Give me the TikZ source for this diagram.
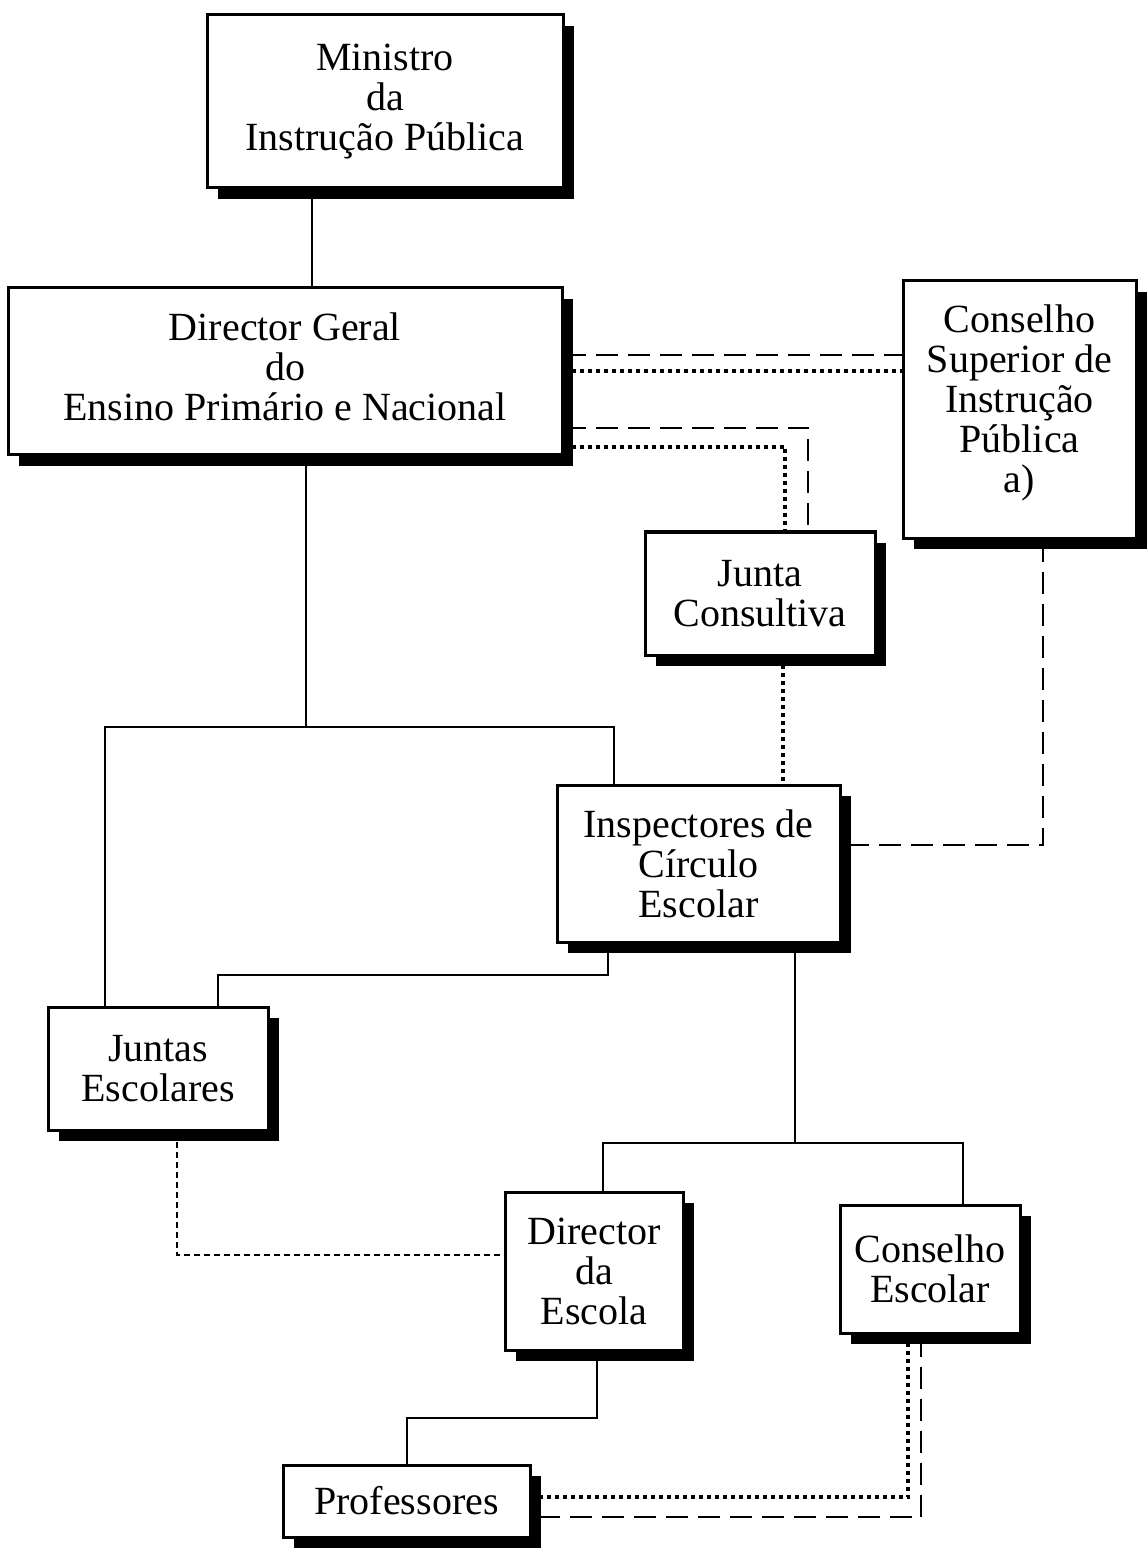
\documentclass[tikz,border=0pt]{standalone}
\usepackage{fontspec}
\setmainfont{Liberation Serif}
\usetikzlibrary{shadows}

\tikzset{every picture/.style={line width=1pt}}
\tikzset{
  orgbox/.style={draw, line width=1.5pt, fill=white, inner sep=0pt, align=center,
    font=\fontsize{20}{20}\selectfont,
    drop shadow={opacity=1, fill=black, shadow xshift=5.5pt, shadow yshift=-5.5pt}},
  longdash/.style={dash pattern=on 11pt off 5pt, line width=1pt},
  thickdot/.style={dash pattern=on 2pt off 2pt, line width=2pt},
  finedash/.style={dash pattern=on 3pt off 2pt, line width=1pt}
}

\begin{document}
\begin{tikzpicture}[x=0.5pt,y=0.5pt,yscale=-1,xscale=1]
\useasboundingbox (0,0) rectangle (1147,1550);

%Shape: Box [Ministro]
\node [orgbox, minimum width=178pt, minimum height=86.5pt] (min) at (385,101.5) {Ministro\\da\\Instrução Pública};
%Shape: Box [Director Geral]
\node [orgbox, minimum width=277pt, minimum height=83.5pt] (dir) at (285,371.5) {Director Geral\\do\\Ensino Primário e Nacional\\[-15pt]};
%Shape: Box [Conselho Superior]
\node [orgbox, minimum width=116.5pt, minimum height=128.5pt] (cons) at (1019.5,409.5) {Conselho\\Superior de\\Instrução\\Pública\\a)\\[-9pt]};
%Shape: Box [Junta Consultiva]
\node [orgbox, minimum width=115pt, minimum height=61.5pt] (junta) at (760,593.5) {Junta\\Consultiva};
%Shape: Box [Inspectores]
\node [orgbox, minimum width=141.5pt, minimum height=78.5pt] (insp) at (698.5,863.5) {Inspectores de\\Círculo\\Escolar};
%Shape: Box [Juntas Escolares]
\node [orgbox, minimum width=110pt, minimum height=61.5pt] (juntas) at (158,1068.5) {Juntas\\Escolares};
%Shape: Box [Director da Escola]
\node [orgbox, minimum width=89pt, minimum height=79pt] (dirEsc) at (594,1271) {Director\\da\\Escola};
%Shape: Box [Conselho Escolar]
\node [orgbox, minimum width=90pt, minimum height=64pt] (consEsc) at (930,1269) {Conselho\\Escolar};
%Shape: Box [Professores]
\node [orgbox, minimum width=123.5pt, minimum height=36pt] (prof) at (406.5,1501) {Professores};

%Straight Lines [Ministro - Director Geral]
\draw (312,0 |- min.south) -- (312,0 |- dir.north);

%Straight Lines [Director Geral - Conselho Superior]
\draw [longdash] (dir.east |- 0,355) -- (cons.west |- 0,355);
\draw [thickdot] (dir.east |- 0,371) -- (cons.west |- 0,371);

%Straight Lines [Director Geral - Junta Consultiva]
\draw [longdash] (dir.east |- 0,428) -| (808,0 |- junta.north);
\draw [thickdot] (dir.east |- 0,447) -| (785,0 |- junta.north);

%Straight Lines [Junta Consultiva - Inspectores]
\draw [thickdot] (783,0 |- junta.south) -- (783,0 |- insp.north);

%Straight Lines [Conselho Superior - Inspectores]
\draw [longdash] (1043,0 |- cons.south) |- (insp.east |- 0,845);

%Straight Lines [Director Geral - Juntas / Inspectores]
\coordinate (jdir) at (306,727);
\draw (306,0 |- dir.south) -- (jdir);
\draw (105,0 |- juntas.north) |- (jdir) -| (614,0 |- insp.north);

%Straight Lines [Inspectores - Juntas Escolares]
\draw (608,0 |- insp.south) -- (608,975) -| (218,0 |- juntas.north);

%Straight Lines [Inspectores - Director da Escola / Conselho Escolar]
\coordinate (jinsp) at (795,1143);
\draw (795,0 |- insp.south) -- (jinsp);
\draw (603,0 |- dirEsc.north) |- (jinsp) -| (963,0 |- consEsc.north);

%Straight Lines [Juntas Escolares - Director da Escola]
\draw [finedash] (177,0 |- juntas.south) |- (dirEsc.west |- 0,1255);

%Straight Lines [Director da Escola - Professores]
\draw (597,0 |- dirEsc.south) -- (597,1418) -| (407,0 |- prof.north);

%Straight Lines [Conselho Escolar - Professores]
\draw [thickdot] (908,0 |- consEsc.south) |- (prof.east |- 0,1497);
\draw [longdash] (921,0 |- consEsc.south) |- (prof.east |- 0,1517);

\end{tikzpicture}
\end{document}
